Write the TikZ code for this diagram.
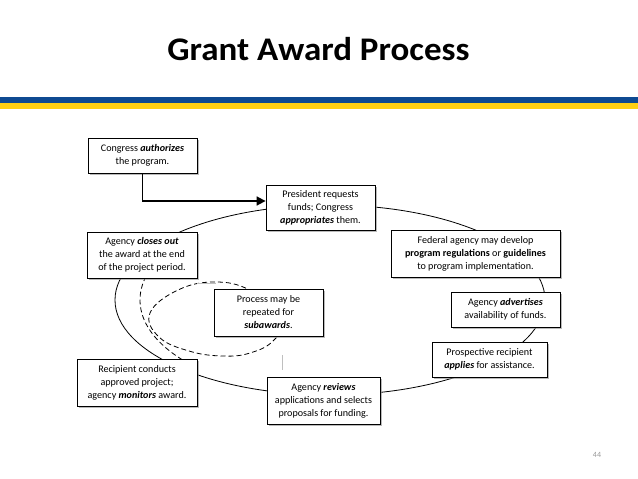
\documentclass[tikz,border=0pt]{standalone}
\usepackage{fontspec}
\setmainfont{Carlito}
\usetikzlibrary{arrows.meta,shadows}
\definecolor{stripeblue}{RGB}{14,74,146}
\definecolor{stripeyellow}{RGB}{255,208,20}
\tikzset{
  stepbox/.style={draw, thick, fill=white, align=center, inner sep=2pt,
    font=\fontsize{10.1}{13}\selectfont,
    drop shadow={shadow xshift=1.5pt, shadow yshift=-1.5pt, fill=black!45, opacity=0.6}},
  cycleline/.style={line width=0.8pt},
  subline/.style={line width=0.8pt, dash pattern=on 5pt off 3pt}
}
\newcommand{\bi}[1]{\textbf{\textit{#1}}}
\begin{document}
\begin{tikzpicture}[x=1pt,y=-1pt]
    \useasboundingbox (0,0) rectangle (638,479);
            %titolo
            \node[font=\fontsize{33}{36}\selectfont\bfseries] (title) at (318.5,49)
                 {\scalebox{1.06}[1]{Grant Award Process}};
            %strisce
            \fill[stripeblue] (0,97) rectangle (638,103);
            \fill[stripeyellow] (0,103) rectangle (638,109);
            %ciclo principale
            \coordinate (centro) at (330,300);
            \draw[cycleline] (centro) ellipse [x radius=215, y radius=95];
            %ciclo tratteggiato esterno
            \draw[subline] plot[domain=141:194, samples=40, smooth, variable=\t]
                 ({330+190*cos(\t)},{300+95*sin(\t)});
            %ciclo tratteggiato interno
            \draw[subline] plot[smooth cycle, tension=0.7] coordinates
                 {(250,290) (215,282) (178,290) (150,313) (159,337) (189,351)
                  (222,356) (250,353) (274,340) (286,315)};
            %linee grigie
            \draw[black!25, line width=0.5pt] (197,283) -- (216,283);
            \draw[black!25, line width=0.5pt] (282,355) -- (282,370);
            %riquadri
            \node[stepbox, minimum width=109pt, minimum height=35pt] (congress) at (142.5,155.5)
                 {Congress \bi{authorizes}\\the program.};
            \node[stepbox, minimum width=109pt, minimum height=45pt] (president) at (320.5,207.5)
                 {President requests\\funds; Congress\\\bi{appropriates} them.};
            \node[stepbox, minimum width=110pt, minimum height=46pt] (closeout) at (142,255)
                 {Agency \bi{closes out}\\the award at the end\\of the project period.};
            \node[stepbox, minimum width=169pt, minimum height=47pt] (federal) at (475.5,253.5)
                 {Federal agency may develop\\\textbf{program regulations} or \textbf{guidelines}\\to program implementation.};
            \node[stepbox, minimum width=109pt, minimum height=35pt] (advertise) at (505.5,309.5)
                 {Agency \bi{advertises}\\availability of funds.};
            \node[stepbox, minimum width=115pt, minimum height=35pt] (applies) at (489.5,359.5)
                 {Prospective recipient\\\bi{applies} for assistance.};
            \node[stepbox, minimum width=109pt, minimum height=47pt] (repeat) at (268.5,312.5)
                 {Process may be\\repeated for\\\bi{subawards}.};
            \node[stepbox, minimum width=120pt, minimum height=47pt] (conducts) at (137,382.5)
                 {Recipient conducts\\approved project;\\agency \bi{monitors} award.};
            \node[stepbox, minimum width=113pt, minimum height=47pt] (reviews) at (323.5,400.5)
                 {Agency \bi{reviews}\\applications and selects\\proposals for funding.};
            %freccia autorizzazione
            \draw[line width=1.6pt, -{Triangle[length=9pt,width=9pt]}] (congress.south)
                 |- ([yshift=6.5pt]president.west);
            %numero pagina
            \node[text=black!40, font=\fontsize{8}{9}\selectfont] (page) at (597,455) {44};
    \end{tikzpicture}
\end{document}
